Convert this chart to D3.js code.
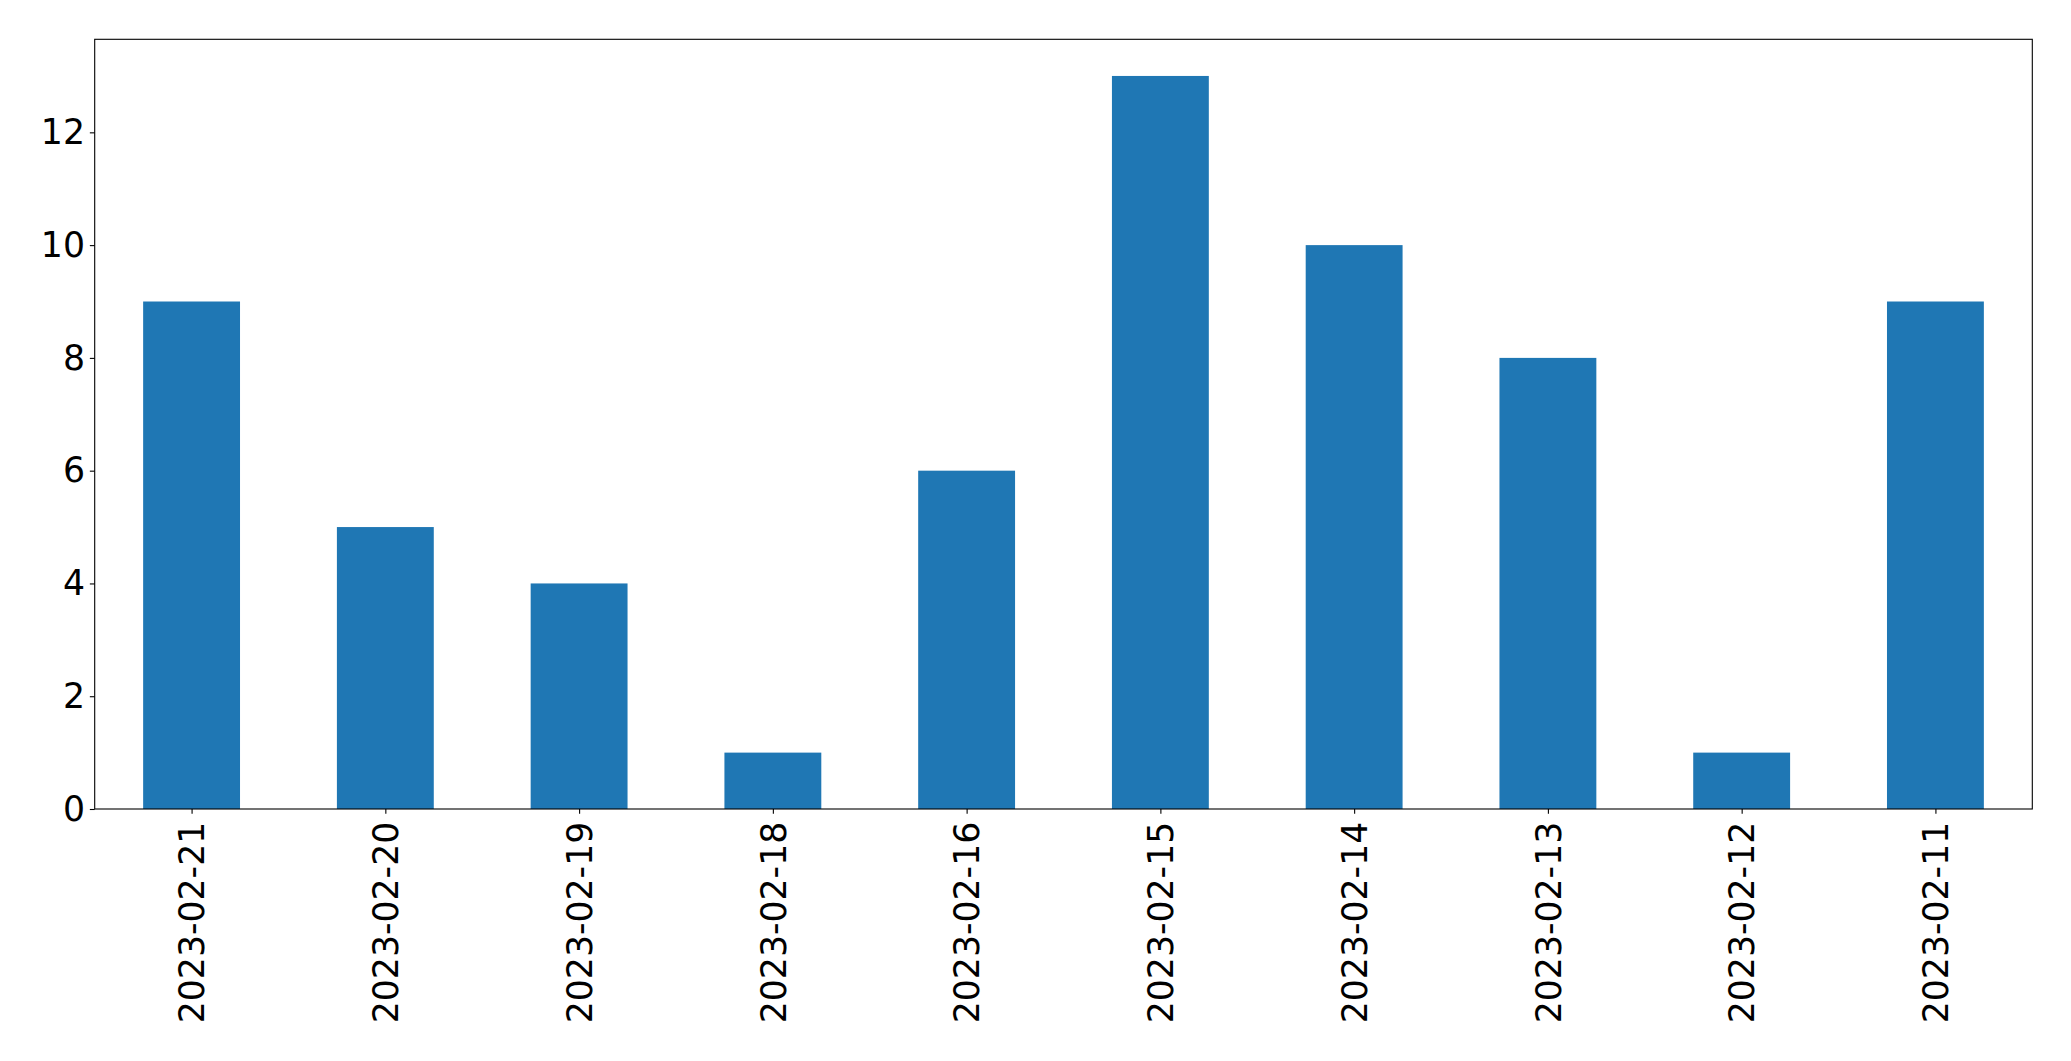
<!DOCTYPE html>
<html>
<head>
<meta charset="utf-8">
<script src="https://cdn.jsdelivr.net/npm/d3@7"></script>
<style>
  html, body { margin: 0; padding: 0; background: #fff; }
  svg { display: block; }
  text { font-family: "DejaVu Sans", sans-serif; fill: #000; }
</style>
</head>
<body>
<svg id="chart" width="2071" height="1061"></svg>
<script>
const categories = ["2023-02-21","2023-02-20","2023-02-19","2023-02-18","2023-02-16","2023-02-15","2023-02-14","2023-02-13","2023-02-12","2023-02-11"];
const values = [9, 5, 4, 1, 6, 13, 10, 8, 1, 9];
const yTicks = [0, 2, 4, 6, 8, 10, 12];

(function () {
const plotLeft = 94.7, plotRight = 2032.3, plotTop = 39.3, plotBottom = 809;
const fontSize = 34.7;
const tickLen = 4.86, pad = 4.86;

const svg = d3.select("#chart");

const x = d3.scaleLinear().domain([-0.5, categories.length - 0.5]).range([plotLeft, plotRight]);
const yMax = d3.max(values) * 1.05;
const y = d3.scaleLinear().domain([0, yMax]).range([plotBottom, plotTop]);

// bars
svg.append("g").selectAll("rect").data(values).join("rect")
  .attr("x", (d, i) => x(i - 0.25))
  .attr("width", (d, i) => x(i + 0.25) - x(i - 0.25))
  .attr("y", d => y(d))
  .attr("height", d => y(0) - y(d))
  .attr("fill", "#1f77b4");

// y axis
const yAxis = d3.axisLeft(y).tickValues(yTicks).tickSize(tickLen).tickPadding(pad).tickFormat(d3.format("d"));
const gy = svg.append("g").attr("transform", `translate(${plotLeft},0)`).call(yAxis);
gy.select(".domain").remove();
gy.selectAll(".tick line").attr("stroke", "#000").attr("stroke-width", 1.1);
gy.selectAll(".tick text").attr("font-size", fontSize).attr("font-family", "DejaVu Sans").attr("fill", "#000");

// x axis
const xAxis = d3.axisBottom(x).tickValues(d3.range(categories.length)).tickSize(tickLen).tickFormat(i => categories[i]);
const gx = svg.append("g").attr("transform", `translate(0,${plotBottom})`).call(xAxis);
gx.select(".domain").remove();
gx.selectAll(".tick line").attr("stroke", "#000").attr("stroke-width", 1.1);
gx.selectAll(".tick text")
  .attr("font-size", fontSize)
  .attr("font-family", "DejaVu Sans")
  .attr("fill", "#000")
  .attr("text-anchor", "end")
  .attr("x", 0).attr("y", 0).attr("dy", "0.35em")
  .attr("transform", `translate(0,${tickLen + pad + 3}) rotate(-90)`);

// frame
svg.append("rect")
  .attr("x", plotLeft).attr("y", plotTop)
  .attr("width", plotRight - plotLeft).attr("height", plotBottom - plotTop)
  .attr("fill", "none").attr("stroke", "#000").attr("stroke-width", 1.1);
})();
</script>
</body>
</html>
